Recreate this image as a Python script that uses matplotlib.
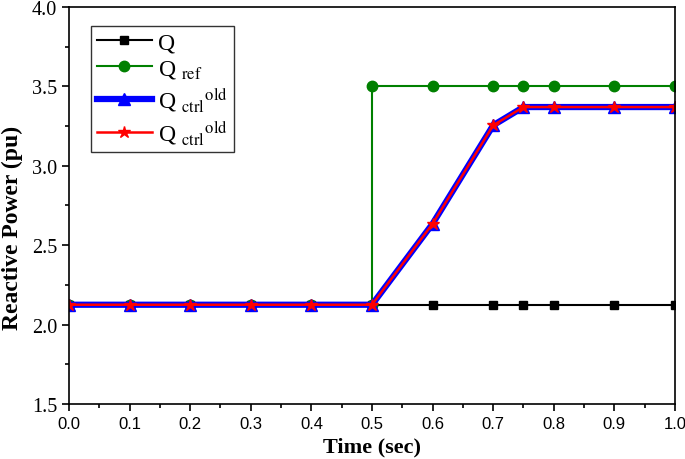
import matplotlib.pyplot as plt
from matplotlib.ticker import MultipleLocator

plt.rcParams['mathtext.fontset'] = 'stix'

time = [0.0, 0.1, 0.2, 0.3, 0.4, 0.5, 0.6, 0.7, 0.75, 0.8, 0.9, 1.0]
q = [2.125] * 12
t_ref = [0.0, 0.1, 0.2, 0.3, 0.4, 0.5, 0.5, 0.6, 0.7, 0.75, 0.8, 0.9, 1.0]
q_ref = [2.125] * 6 + [3.5] * 7
q_ctrl = [2.125, 2.125, 2.125, 2.125, 2.125, 2.125, 2.635, 3.255, 3.37, 3.37, 3.37, 3.37]

fig = plt.figure(figsize=(6.85, 4.6), dpi=100)
ax = fig.add_axes([0.1007, 0.1196, 0.8847, 0.863])

ax.plot(time, q, color='black', lw=1.5, marker='s', ms=6, label='Q')
ax.plot(t_ref, q_ref, color='green', lw=1.5, marker='o', ms=7.5, label=r'Q $_{\rm ref}$')
ax.plot(time, q_ctrl, color='blue', lw=4.5, marker='^', ms=8, label=r'Q $_{\rm ctrl}$$^{\rm old}$')
ax.plot(time, q_ctrl, color='red', lw=1.8, marker='*', ms=9, label=r'Q $_{\rm ctrl}$$^{\rm old}$')

ax.set_xlim(0, 1.0)
ax.set_ylim(1.5, 4.0)
ax.xaxis.set_major_locator(MultipleLocator(0.1))
ax.xaxis.set_minor_locator(MultipleLocator(0.05))
ax.yaxis.set_major_locator(MultipleLocator(0.5))
ax.yaxis.set_minor_locator(MultipleLocator(0.25))
ax.tick_params(which='both', direction='out', width=1.2)
ax.tick_params(which='major', length=5)
ax.tick_params(which='minor', length=3)
for lab in ax.get_xticklabels():
    lab.set_fontfamily('Liberation Sans')
    lab.set_fontsize(12)
for lab in ax.get_yticklabels():
    lab.set_fontfamily('Liberation Serif')
    lab.set_fontsize(14.5)
for s in ax.spines.values():
    s.set_linewidth(1.2)

ax.set_xlabel('Time (sec)', fontfamily='Liberation Serif', fontweight='bold', fontsize=16, labelpad=4)
ax.set_ylabel('Reactive Power (pu)', fontfamily='Liberation Serif', fontweight='bold', fontsize=17)
ax.yaxis.set_label_coords(-0.076, 0.446)

leg = ax.legend(loc='upper left', bbox_to_anchor=(0.036, 0.952), borderaxespad=0, fancybox=False,
                edgecolor='black', prop={'family': 'Liberation Serif', 'size': 17}, handlelength=2.35,
                handletextpad=0.25, labelspacing=0.2, borderpad=0.25)
leg.get_frame().set_linewidth(1.0)

fig.savefig('out.png', dpi=100)
